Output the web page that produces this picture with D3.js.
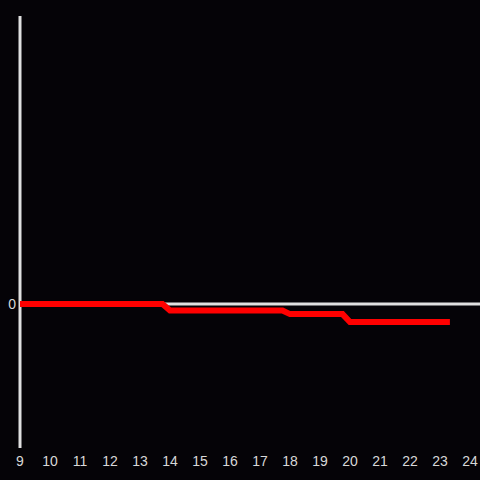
<!DOCTYPE html>
<html>
<head>
<meta charset="utf-8">
<script src="https://cdn.jsdelivr.net/npm/d3@7"></script>
<style>
  body { margin: 0; background: #050307; }
  svg { display: block; }
</style>
</head>
<body>
<div id="chart"></div>
<script>
// hours of the day and the running value at each point
var hours = [9, 13.75, 14, 17.75, 18, 19.75, 20, 23.33];
var values = [0, 0, -0.09, -0.09, -0.14, -0.14, -0.25, -0.25];
var xTicks = [9, 10, 11, 12, 13, 14, 15, 16, 17, 18, 19, 20, 21, 22, 23, 24];
var yTicks = [0];

var width = 480, height = 480;
var margin = {top: 16, right: 10, bottom: 32, left: 20};

var svg = d3.select("#chart").append("svg")
	.attr("width", width)
	.attr("height", height);

svg.append("rect")
	.attr("width", width)
	.attr("height", height)
	.attr("fill", "#050307");

var x = d3.scaleLinear()
	.domain([9, 24])
	.range([margin.left, width - margin.right]);

var y = d3.scaleLinear()
	.domain([-2, 4])
	.range([height - margin.bottom, margin.top]);

var textColor = "#d8d8d8";

// x tick labels
svg.append("g")
	.selectAll("text")
	.data(xTicks)
	.enter().append("text")
	.attr("x", function(d) { return x(d); })
	.attr("y", 466)
	.attr("text-anchor", "middle")
	.attr("font-family", "Liberation Sans, Arial, sans-serif")
	.attr("font-size", 14)
	.attr("fill", textColor)
	.text(function(d) { return d; });

// y tick labels
svg.append("g")
	.selectAll("text")
	.data(yTicks)
	.enter().append("text")
	.attr("x", 16)
	.attr("y", function(d) { return y(d); })
	.attr("dy", "0.35em")
	.attr("text-anchor", "end")
	.attr("font-family", "Liberation Sans, Arial, sans-serif")
	.attr("font-size", 14)
	.attr("fill", textColor)
	.text(function(d) { return d; });

// zero line
svg.append("line")
	.attr("x1", x(9))
	.attr("x2", width)
	.attr("y1", y(0))
	.attr("y2", y(0))
	.attr("stroke", "#e0e0e0")
	.attr("stroke-width", 3);

// y axis line
svg.append("line")
	.attr("x1", x(9))
	.attr("x2", x(9))
	.attr("y1", margin.top)
	.attr("y2", height - margin.bottom)
	.attr("stroke", "#e0e0e0")
	.attr("stroke-width", 3);

var line = d3.line()
	.x(function(d, i) { return x(hours[i]); })
	.y(function(d) { return y(d); });

svg.append("path")
	.datum(values)
	.attr("d", line)
	.attr("fill", "none")
	.attr("stroke", "#ff0000")
	.attr("stroke-width", 6);
</script>
</body>
</html>
